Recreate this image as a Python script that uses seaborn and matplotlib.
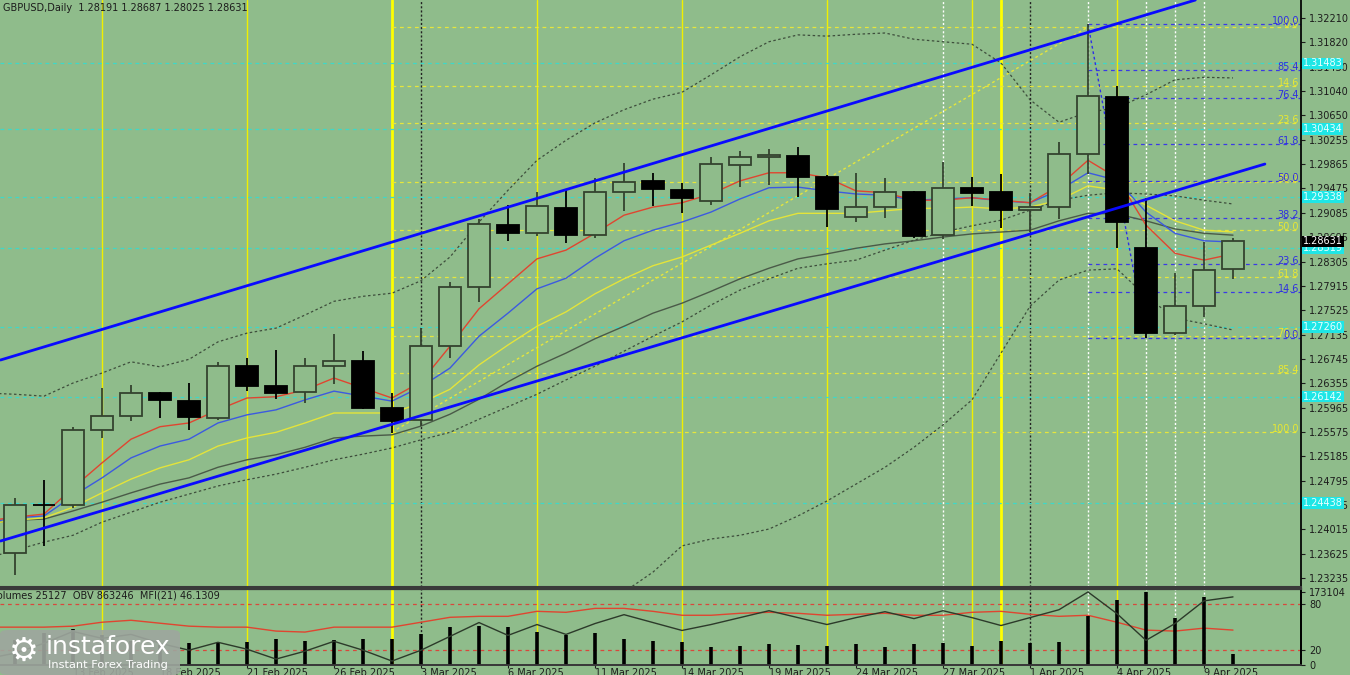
## for data
import numpy as np
import pandas as pd
## for plotting
import matplotlib
matplotlib.use("Agg")
import matplotlib.pyplot as plt
import matplotlib.transforms as mtransforms
from matplotlib.patches import FancyBboxPatch
import seaborn as sns

### data (GBPUSD daily, 11 Feb - 10 Apr 2025)
dates = pd.bdate_range("2025-02-11", "2025-04-10")
opens = [1.23636, 1.24405, 1.24400, 1.25607, 1.25831, 1.26200, 1.26072, 1.25799, 1.26633, 1.26312, 1.26216,
         1.26633, 1.26713, 1.25960, 1.25767, 1.26953, 1.27899, 1.28892, 1.28764, 1.29165, 1.28732, 1.29421,
         1.29598, 1.29453, 1.29277, 1.29854, 1.29982, 1.29998, 1.29662, 1.29021, 1.29181, 1.29421, 1.28732,
         1.29485, 1.29421, 1.29133, 1.29181, 1.30030, 1.30944, 1.28524, 1.27161, 1.27594, 1.28191]
highs = [1.24517, 1.24806, 1.25655, 1.26280, 1.26328, 1.26216, 1.26360, 1.26697, 1.26761, 1.26889, 1.26761,
         1.27145, 1.26873, 1.26200, 1.27242, 1.27979, 1.28989, 1.29213, 1.29421, 1.29453, 1.29646, 1.29886,
         1.29726, 1.29566, 1.29982, 1.30078, 1.30110, 1.30143, 1.29694, 1.29726, 1.29646, 1.29437, 1.29902,
         1.29662, 1.29710, 1.29405, 1.30223, 1.32114, 1.31120, 1.29325, 1.28123, 1.28620, 1.28687]
lows = [1.23283, 1.23748, 1.24357, 1.25479, 1.25751, 1.25799, 1.25607, 1.25767, 1.26232, 1.26104, 1.26040,
        1.26344, 1.25943, 1.25559, 1.25671, 1.26761, 1.27658, 1.28636, 1.28716, 1.28604, 1.28684, 1.29117,
        1.29197, 1.29085, 1.29213, 1.29501, 1.29534, 1.29341, 1.28860, 1.28940, 1.29005, 1.28684, 1.28668,
        1.29197, 1.28844, 1.28780, 1.28989, 1.29710, 1.28524, 1.27081, 1.27129, 1.27418, 1.28025]
closes = [1.24405, 1.24400, 1.25607, 1.25831, 1.26200, 1.26088, 1.25815, 1.26633, 1.26312, 1.26200, 1.26633,
          1.26713, 1.25960, 1.25751, 1.26953, 1.27899, 1.28908, 1.28764, 1.29197, 1.28732, 1.29421, 1.29582,
          1.29469, 1.29325, 1.29870, 1.29982, 1.30014, 1.29662, 1.29149, 1.29181, 1.29421, 1.28716, 1.29485,
          1.29405, 1.29133, 1.29181, 1.30030, 1.30960, 1.28940, 1.27161, 1.27594, 1.28171, 1.28631]

# indicator lines start one bar earlier (10 Feb), so they reach the left edge
ma_red = [1.2415, 1.2421, 1.2426, 1.2468, 1.2508, 1.2546, 1.2566, 1.2572, 1.2593, 1.2612, 1.2614, 1.2625,
          1.2644, 1.2628, 1.2612, 1.2638, 1.2695, 1.2755, 1.2795, 1.2835, 1.2849, 1.2876, 1.2905, 1.2918,
          1.2925, 1.2939, 1.2960, 1.2973, 1.2973, 1.2965, 1.2944, 1.2941, 1.2929, 1.2929, 1.2933, 1.2929,
          1.2925, 1.2952, 1.2993, 1.2965, 1.2889, 1.2844, 1.2833, 1.2843]
ma_blue = [1.2412, 1.2420, 1.2423, 1.2455, 1.2484, 1.2516, 1.2535, 1.2546, 1.2572, 1.2585, 1.2593, 1.2609,
           1.2623, 1.2615, 1.2607, 1.2630, 1.2660, 1.2711, 1.2748, 1.2787, 1.2804, 1.2836, 1.2864, 1.2881,
           1.2894, 1.2910, 1.2931, 1.2949, 1.2950, 1.2944, 1.2939, 1.2937, 1.2929, 1.2931, 1.2933, 1.2928,
           1.2925, 1.2945, 1.2973, 1.2961, 1.2910, 1.2876, 1.2864, 1.2862]
ma_yellow = [1.2410, 1.2416, 1.2420, 1.2437, 1.2460, 1.2482, 1.2500, 1.2513, 1.2535, 1.2548, 1.2557, 1.2572,
             1.2588, 1.2588, 1.2588, 1.2604, 1.2626, 1.2665, 1.2697, 1.2727, 1.2750, 1.2779, 1.2803, 1.2824,
             1.2838, 1.2857, 1.2876, 1.2896, 1.2908, 1.2908, 1.2908, 1.2912, 1.2916, 1.2916, 1.2918, 1.2915,
             1.2918, 1.2929, 1.2952, 1.2945, 1.2921, 1.2896, 1.2881, 1.2878]
ma_gray = [1.2410, 1.2416, 1.2418, 1.2431, 1.2445, 1.2460, 1.2474, 1.2484, 1.2501, 1.2513, 1.2521, 1.2533,
           1.2548, 1.2551, 1.2553, 1.2567, 1.2586, 1.2610, 1.2638, 1.2663, 1.2684, 1.2707, 1.2727, 1.2748,
           1.2764, 1.2783, 1.2803, 1.2820, 1.2835, 1.2843, 1.2852, 1.2859, 1.2864, 1.2870, 1.2875, 1.2878,
           1.2881, 1.2896, 1.2908, 1.2907, 1.2896, 1.2883, 1.2876, 1.2873]
bb_upper = [1.2620, 1.2618, 1.2615, 1.2636, 1.2652, 1.2670, 1.2662, 1.2674, 1.2702, 1.2716, 1.2724, 1.2745,
            1.2767, 1.2775, 1.2780, 1.2800, 1.2838, 1.2894, 1.2945, 1.2993, 1.3025, 1.3053, 1.3074, 1.3091,
            1.3102, 1.3130, 1.3159, 1.3183, 1.3194, 1.3192, 1.3195, 1.3197, 1.3187, 1.3183, 1.3179, 1.3149,
            1.3090, 1.3054, 1.3070, 1.3077, 1.3098, 1.3122, 1.3126, 1.3125]
bb_mid = [1.2355, 1.2368, 1.2381, 1.2392, 1.2413, 1.2429, 1.2445, 1.2458, 1.2471, 1.2481, 1.2490, 1.2501,
          1.2513, 1.2522, 1.2532, 1.2545, 1.2557, 1.2578, 1.2598, 1.2618, 1.2641, 1.2663, 1.2687, 1.2711,
          1.2734, 1.2761, 1.2785, 1.2803, 1.2820, 1.2827, 1.2833, 1.2849, 1.2865, 1.2878, 1.2888, 1.2897,
          1.2913, 1.2929, 1.2937, 1.2941, 1.2939, 1.2936, 1.2929, 1.2923]
bb_lower = [np.nan] * 22 + [1.2301, 1.2333, 1.2375, 1.2386, 1.2392, 1.2402, 1.2423, 1.2447, 1.2474, 1.2501,
                            1.2533, 1.2569, 1.2609, 1.2684, 1.2759, 1.2801, 1.2817, 1.2819, 1.2775, 1.2740,
                            1.2731, 1.2721]

volumes = [60000, 75000, 85000, 70000, 58000, 48000, 52000, 52000, 54500, 61600, 57000, 59000, 61600, 61600,
           73500, 90000, 92500, 90000, 78000, 71000, 76000, 61600, 57000, 54500, 42700, 45000, 49800, 47400,
           45000, 49800, 42700, 49800, 52000, 45000, 57000, 52000, 54500, 116000, 154000, 173104, 111000,
           161000, 25127]
obv = [455000, 492746, 557746, 635746, 590246, 616246, 557746, 512246, 564246, 518746, 453746, 505746,
       570746, 512246, 440746, 512246, 603246, 694246, 609746, 681246, 616246, 687746, 746246, 694246,
       642246, 681246, 726746, 772246, 726746, 681246, 726746, 765746, 720246, 772246, 726746, 674746,
       726746, 778746, 895746, 752746, 577246, 687746, 837246, 863246]
mfi = [50.0, 50.0, 50.0, 51.3, 56.5, 59.1, 55.2, 51.3, 50.0, 50.0, 44.8, 43.5, 50.0, 50.0, 50.0, 56.5, 63.0,
       64.3, 64.3, 70.9, 69.6, 74.8, 74.8, 70.9, 65.7, 65.7, 68.3, 69.6, 68.3, 65.7, 67.0, 68.3, 65.7, 65.7,
       69.6, 70.9, 67.0, 64.3, 65.7, 56.5, 46.1, 44.8, 48.7, 46.13]

price_labels = ["1.32210", "1.31820", "1.31430", "1.31040", "1.30650", "1.30255", "1.29865", "1.29475",
                "1.29085", "1.28695", "1.28305", "1.27915", "1.27525", "1.27135", "1.26745", "1.26355",
                "1.25965", "1.25575", "1.25185", "1.24795", "1.24405", "1.24015", "1.23625", "1.23235"]
level_prices = [1.31483, 1.30434, 1.29338, 1.28519, 1.27260, 1.26142, 1.24438]
fib_ratios = [0.0, 14.6, 23.6, 38.2, 50.0, 61.8, 76.4, 85.4, 100.0]
fib_up = (13, 1.25575, 37, 1.32066)     # yellow grid: 28 Feb low -> 3 Apr high
fib_down = (37, 1.32114, 39, 1.27081)   # blue grid: 3 Apr high -> 7 Apr low
channel_upper = ([-0.5, 40.7], [1.26729, 1.32498])
channel_lower = ([-0.5, 43.1], [1.23828, 1.29870])
vl_yellow = [3, 8, 18, 23, 28, 33, 38]
vl_yellow_thick = [13, 34]
vl_black = [14, 35]
vl_white = [32, 37, 39, 40, 41]

### style
BG = "#8fbc8b"
DARK = "#1c1c1c"
sns.set_theme(style="white", rc={"axes.facecolor": BG, "figure.facecolor": BG, "savefig.facecolor": BG})
plt.rcParams["font.family"] = ["DejaVu Sans"]
plt.rcParams["font.size"] = 7

W, H = 1350, 675
def box(x0, y0, x1, y1):
    return [x0 / W, 1 - y1 / H, (x1 - x0) / W, (y1 - y0) / H]

fig = plt.figure(figsize=(13.5, 6.75), dpi=100)
ax = fig.add_axes(box(0, 0, 1301, 587))
axi = fig.add_axes(box(0, 589, 1301, 665), sharex=ax)
idx = np.arange(len(closes))
lidx = np.arange(-1, len(closes))
ax.set_xlim(-0.517, 44.345)
ax.set_ylim(1.23091, 1.32499)

### vertical separators (both panels)
for a in (ax, axi):
    for v in vl_yellow:
        a.axvline(v, color="#f0f000", lw=1, zorder=1)
    for v in vl_yellow_thick:
        a.axvline(v, color="#ffff00", lw=2, zorder=1)
    for v in vl_black:
        a.axvline(v, color="#222222", lw=1, ls=(0, (1.5, 1.5)), zorder=1)
    for v in vl_white:
        a.axvline(v, color="white", lw=1, ls=(0, (1.5, 1.5)), zorder=1)

### horizontal levels
for p in level_prices:
    ax.axhline(p, color="#3fd8c8", lw=0.9, ls=(0, (3, 3)), zorder=2)

blend = mtransforms.blended_transform_factory(ax.transAxes, ax.transData)
x0, lo, x1, hi = fib_up
for r in fib_ratios:
    p = hi - r / 100 * (hi - lo)
    ax.hlines(p, x0, 44.5, color="#e6e63c", lw=0.9, ls=(0, (3, 3)), zorder=2)
    ax.text(0.9985, p, f"{r:.1f}", transform=blend, ha="right", va="baseline", color="#e8e832", fontsize=7, zorder=3)
ax.plot([x0, x1], [lo, hi], color="#e6e63c", lw=1, ls=(0, (2, 2)), zorder=2)
x0, hi, x1, lo = fib_down
for r in fib_ratios:
    p = lo + r / 100 * (hi - lo)
    ax.hlines(p, x0, 44.5, color="#3a3ae6", lw=0.9, ls=(0, (3, 3)), zorder=2)
    ax.text(0.9985, p, f"{r:.1f}", transform=blend, ha="right", va="baseline", color="#2e2ee0", fontsize=7, zorder=3)
ax.plot([x0, x1], [hi, lo], color="#2e2ee6", lw=1, ls=(0, (2, 2)), zorder=2)

### moving averages and bands
for ser, col in [(ma_gray, "#4a5a48"), (ma_yellow, "#e4e43a"), (ma_blue, "#3c5ae0"), (ma_red, "#e04530")]:
    sns.lineplot(x=lidx, y=ser, ax=ax, color=col, lw=1, zorder=3, legend=False)
for ser in (bb_upper, bb_mid, bb_lower):
    sns.lineplot(x=lidx, y=pd.Series(ser, dtype=float), ax=ax, color="#3e4e3c", lw=0.9,
                 ls=(0, (2, 2)), zorder=3, legend=False)

### candles
o, h, l, c = map(np.array, (opens, highs, lows, closes))
up = c >= o
body_lo = np.minimum(o, c)
body_h = np.maximum(np.abs(c - o), 0.00004)
ax.vlines(idx[up], l[up], h[up], color="#34432f", lw=1.3, zorder=4)
ax.vlines(idx[~up], l[~up], h[~up], color="black", lw=1.3, zorder=4)
ax.bar(idx[up], body_h[up], bottom=body_lo[up], width=0.76, color=BG, edgecolor="#34432f", lw=1.3, zorder=5)
ax.bar(idx[~up], body_h[~up], bottom=body_lo[~up], width=0.76, color="black", edgecolor="black", lw=1.3, zorder=5)

### channel
ax.plot(*channel_upper, color="#0a0aff", lw=2, zorder=6)
ax.plot(*channel_lower, color="#0a0aff", lw=2, zorder=6)

### axes styling (main)
ax.yaxis.tick_right()
ax.set_yticks(np.linspace(1.23235, 1.32210, 24))
ax.set_yticklabels(price_labels[::-1])
ax.tick_params(axis="y", right=True, length=3, width=0.8, pad=3, labelsize=7, colors=DARK)
ax.tick_params(axis="x", bottom=False, labelbottom=False)
for s in ("top", "left"):
    ax.spines[s].set_visible(False)
ax.spines["right"].set_color("black")
ax.spines["bottom"].set_color("#3a3a3a")
ax.spines["bottom"].set_linewidth(1.5)
ax.set_xlabel("")
ax.set_ylabel("")

for p, txt in zip(level_prices, ["1.31483", "1.30434", "1.29338", "1.28519", "1.27260", "1.26142", "1.24438"]):
    ax.text(1.0015, p, txt, transform=blend, ha="left", va="center", color="#e8ffff", fontsize=7,
            clip_on=False, zorder=10, bbox=dict(boxstyle="square,pad=0.08", fc="#1ee6e6", ec="none"))
ax.text(1.0015, closes[-1], f"{closes[-1]:.5f}", transform=blend, ha="left", va="center", color="white",
        fontsize=7, clip_on=False, zorder=11, bbox=dict(boxstyle="square,pad=0.08", fc="black", ec="none"))

fig.text(3 / W, 1 - 8 / H, "GBPUSD,Daily  1.28191 1.28687 1.28025 1.28631", color=DARK, fontsize=7, va="center")

### indicator panel
axi.set_ylim(0.0, 100.4)
for lv in (20, 80):
    axi.axhline(lv, color="#d9483c", lw=0.9, ls=(0, (3, 3)), zorder=2)
sns.lineplot(x=lidx, y=mfi, ax=axi, color="#e04530", lw=1, zorder=4, legend=False)

axv = axi.twinx()
axv.set_ylim(0, 180220)
axv.vlines(idx, 0, volumes, color="black", lw=2.6, zorder=3)
axv.set_yticks([0, 173104])
axv.set_yticklabels(["0", "173104"])
axv.tick_params(axis="y", right=True, length=3, width=0.8, pad=3, labelsize=7, colors=DARK)

axo = axi.twinx()
axo.set_ylim(414746, 915246)
sns.lineplot(x=lidx, y=obv, ax=axo, color="#2c3a2a", lw=1, legend=False)
axo.set_yticks([])

# twinx moves the host ticks to the left, so put the MFI levels back on the right
axi.yaxis.tick_right()
axi.set_yticks([20, 80])
axi.set_yticklabels(["20", "80"])
axi.tick_params(axis="y", left=False, labelleft=False, right=True, labelright=True,
                length=3, width=0.8, pad=3, labelsize=7, colors=DARK)

all_days = pd.bdate_range("2025-02-10", "2025-04-10")
tick_pos = list(range(-1, len(closes), 3))
tick_lab = [f"{all_days[t + 1].day} {all_days[t + 1].strftime('%b %Y')}" for t in tick_pos]
axi.set_xticks(tick_pos)
axi.set_xticklabels(tick_lab, ha="left")
axi.tick_params(axis="x", bottom=True, length=2, width=0.8, pad=0, labelsize=7, colors=DARK)
for a in (axi, axv, axo):
    a.spines["left"].set_visible(False)
    a.spines["top"].set_color("#3a3a3a")
    a.spines["top"].set_linewidth(1.5)
    a.spines["bottom"].set_color("#3a3a3a")
    a.spines["right"].set_color("black")
    a.set_ylabel("")
    a.set_xlabel("")
axi.set_xlim(-0.517, 44.345)

fig.text(-9 / W, 1 - 595 / H, "Volumes 25127  OBV 863246  MFI(21) 46.1309", color=DARK, fontsize=7, va="center")

### watermark
fig.patches.append(FancyBboxPatch((0, 0), 180 / W, 45 / H, boxstyle="round,pad=0,rounding_size=0.006",
                                  transform=fig.transFigure, fc="#9ea69e", ec="none", alpha=0.9, zorder=20))
fig.text(24 / W, 1 - 651 / H, "\u2699", color="white", fontsize=24, ha="center", va="center", zorder=21)
fig.text(46 / W, 1 - 647 / H, "instaforex", color="white", fontsize=18, ha="left", va="center", zorder=21)
fig.text(48 / W, 1 - 665 / H, "Instant Forex Trading", color="white", fontsize=8.2, ha="left", va="center", zorder=21)

fig.savefig("out.png", dpi=100)
